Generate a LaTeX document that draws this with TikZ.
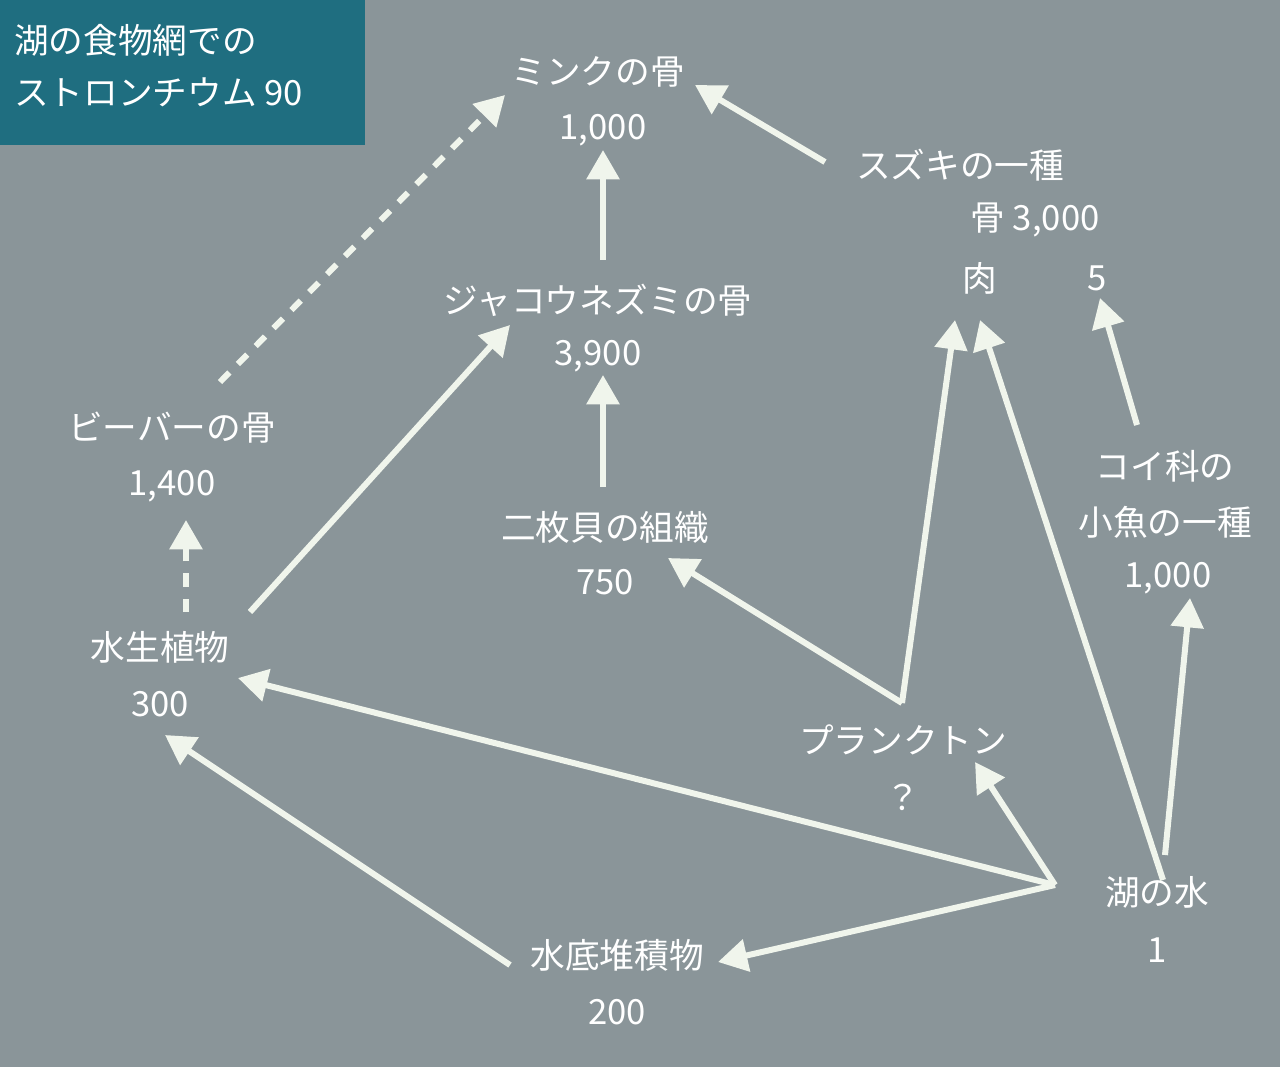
\documentclass[tikz,border=0pt]{standalone}
\usepackage{fontspec}
\setmainfont{Noto Sans CJK JP}
\usetikzlibrary{arrows.meta}
\definecolor{bg}{HTML}{8A9599}
\definecolor{tb}{HTML}{1F6E80}
\definecolor{fg}{HTML}{F0F5EC}
\tikzset{
 lbl/.style={text=white,font=\fontsize{26}{30}\selectfont,inner sep=0pt},
 arr/.style={draw=fg,line width=4.5pt,-{Triangle[length=22pt,width=24pt]}},
 darr/.style={arr,dash pattern=on 10pt off 9pt},
}
\begin{document}
\begin{tikzpicture}[x=0.75pt,y=-0.75pt]
\fill[bg] (0,0) rectangle (1280,1067);
\useasboundingbox (0,0) rectangle (1280,1067);
\fill[tb] (0,0) rectangle (365,145);
\node[lbl,anchor=west] (t1) at (14,40) {湖の食物網での};
\node[lbl,anchor=west] (t2) at (14,92) {ストロンチウム 90};
\node[lbl] (mink) at (598,72) {ミンクの骨};
\node[lbl] (minkv) at (603,130) {1,000};
\node[lbl] (suz) at (960,165) {スズキの一種};
\node[lbl] (suzb) at (1035,220) {骨 3,000};
\node[lbl] (suzm) at (980,278) {肉};
\node[lbl] (suzv) at (1097,278) {5};
\node[lbl] (jak) at (598,300) {ジャコウネズミの骨};
\node[lbl] (jakv) at (598,356) {3,900};
\node[lbl] (bea) at (172,428) {ビーバーの骨};
\node[lbl] (beav) at (172,486) {1,400};
\node[lbl] (biv) at (605,527) {二枚貝の組織};
\node[lbl] (bivv) at (605,582) {750};
\node[lbl] (koi1) at (1165,466) {コイ科の};
\node[lbl] (koi2) at (1165,522) {小魚の一種};
\node[lbl] (koiv) at (1168,578) {1,000};
\node[lbl] (pl) at (160,647) {水生植物};
\node[lbl] (plv) at (160,704) {300};
\node[lbl] (pk) at (903,740) {プランクトン};
\node[lbl] (pkv) at (903,797) {？};
\node[lbl] (wat) at (1157,892) {湖の水};
\node[lbl] (watv) at (1157,950) {1};
\node[lbl] (sed) at (617,955) {水底堆積物};
\node[lbl] (sedv) at (617,1012) {200};
\coordinate (a1) at (220,382); \coordinate (a2) at (505,95);
\coordinate (b1) at (603,260); \coordinate (b2) at (603,150);
\coordinate (c1) at (825,162); \coordinate (c2) at (695,85);
\coordinate (d1) at (250,612); \coordinate (d2) at (510,325);
\coordinate (e1) at (603,487); \coordinate (e2) at (603,375);
\coordinate (f1) at (186,612); \coordinate (f2) at (186,520);
\coordinate (p0) at (902,703);
\coordinate (g2) at (668,558); \coordinate (h2) at (955,320);
\coordinate (i1) at (1163,880); \coordinate (i2) at (980,320);
\coordinate (j1) at (1137,425); \coordinate (j2) at (1100,298);
\coordinate (k1) at (1165,855); \coordinate (k2) at (1190,598);
\coordinate (w0) at (1055,885);
\coordinate (l2) at (238,678); \coordinate (m2) at (975,762); \coordinate (n2) at (718,962);
\coordinate (o1) at (510,965); \coordinate (o2) at (165,735);
\draw[darr] (a1) -- (a2);
\draw[arr] (b1) -- (b2);
\draw[arr] (c1) -- (c2);
\draw[arr] (d1) -- (d2);
\draw[arr] (e1) -- (e2);
\draw[darr] (f1) -- (f2);
\draw[arr] (p0) -- (g2);
\draw[arr] (p0) -- (h2);
\draw[arr] (i1) -- (i2);
\draw[arr] (j1) -- (j2);
\draw[arr] (k1) -- (k2);
\draw[arr] (w0) -- (l2);
\draw[arr] (w0) -- (m2);
\draw[arr] (w0) -- (n2);
\draw[arr] (o1) -- (o2);
\end{tikzpicture}
\end{document}
